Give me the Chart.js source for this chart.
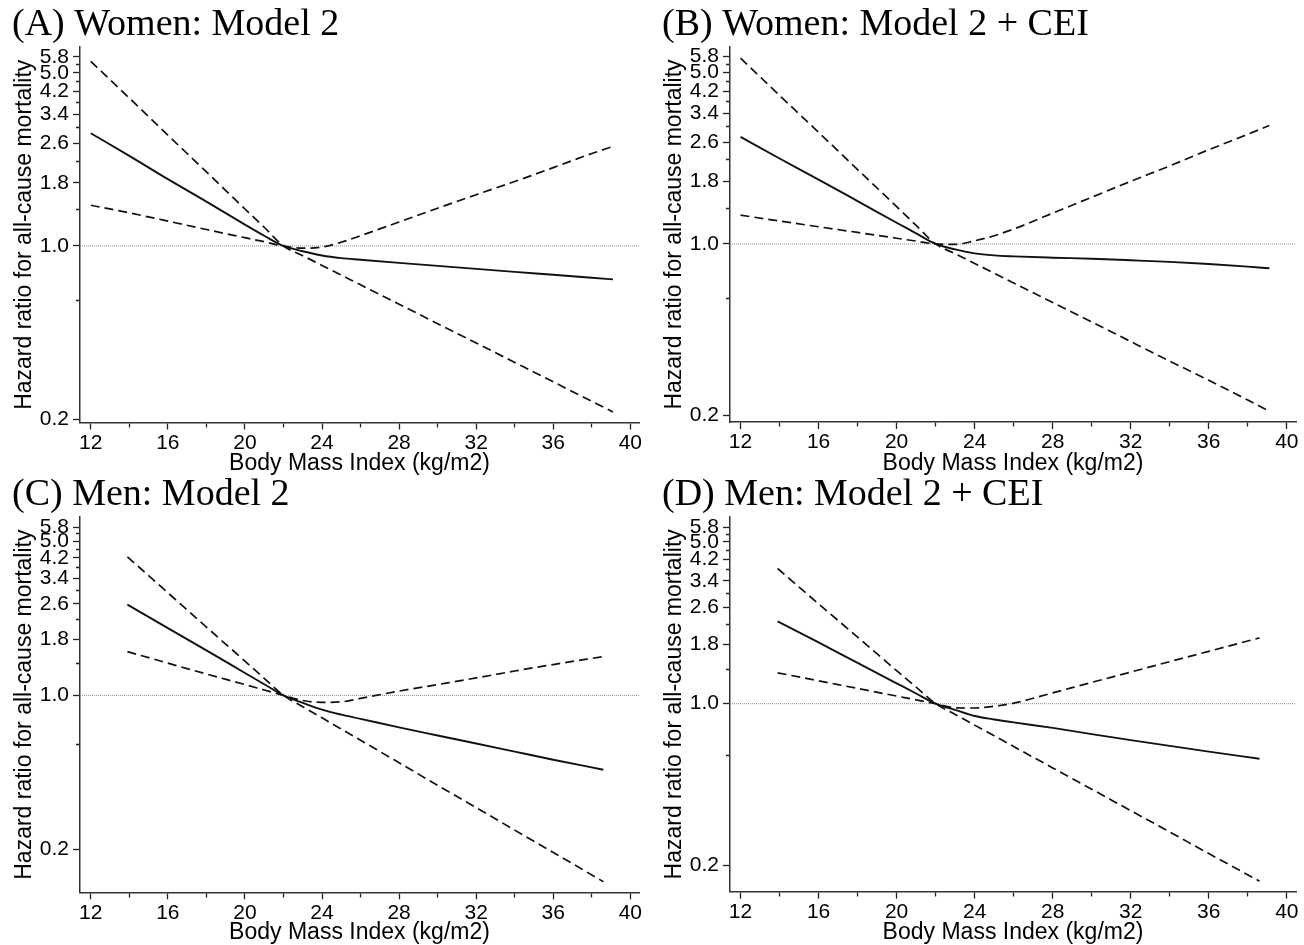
<!DOCTYPE html>
<html>
<head>
<meta charset="utf-8">
<script src="https://cdn.jsdelivr.net/npm/chart.js@4.4.1/dist/chart.umd.min.js"></script>
<style>
  body { margin: 0; background: #fff; }
  #wrap { position: relative; width: 1304px; height: 945px; overflow: hidden; background: #fff; }
  canvas { position: absolute; }
</style>
</head>
<body>
<div id="wrap">
  <canvas id="panelA" width="650" height="480" style="left:0;top:0"></canvas>
  <canvas id="panelB" width="654" height="480" style="left:650px;top:0"></canvas>
  <canvas id="panelC" width="650" height="475" style="left:0;top:470px"></canvas>
  <canvas id="panelD" width="654" height="475" style="left:650px;top:470px"></canvas>
</div>
<script>
// BMI grid the curves were read at
var bmiWomen = [12, 14, 16, 18, 20, 21, 22, 23, 24, 25, 26, 28, 30, 32, 34, 36, 38, 39.1];
var bmiMen = [13.9, 16, 18, 20, 21, 22, 23, 24, 25, 26, 28, 30, 32, 34, 36, 38.6];

// (A) Women: Model 2
var hrA = [2.85, 2.31, 1.86, 1.51, 1.22, 1.10, 1.0, 0.952, 0.915, 0.893, 0.88, 0.855, 0.831, 0.808, 0.786, 0.765, 0.744, 0.733];
var ciSteepA = [5.56, 3.95, 2.80, 1.99, 1.41, 1.19, 1.0, 0.914, 0.835, 0.763, 0.697, 0.582, 0.486, 0.406, 0.339, 0.283, 0.236, 0.214];
var ciBendA = [1.46, 1.36, 1.26, 1.165, 1.08, 1.04, 1.0, 0.98, 0.99, 1.035, 1.10, 1.25, 1.42, 1.61, 1.82, 2.07, 2.36, 2.52];

// (B) Women: Model 2 + CEI
var hrB = [2.73, 2.23, 1.83, 1.495, 1.22, 1.105, 1.0, 0.95, 0.915, 0.898, 0.89, 0.879, 0.870, 0.858, 0.845, 0.828, 0.808, 0.796];
var ciSteepB = [5.72, 4.03, 2.85, 2.01, 1.42, 1.19, 1.0, 0.912, 0.833, 0.760, 0.693, 0.577, 0.481, 0.40, 0.333, 0.278, 0.231, 0.208];
var ciBendB = [1.31, 1.24, 1.175, 1.114, 1.055, 1.027, 1.0, 0.995, 1.03, 1.08, 1.15, 1.335, 1.55, 1.80, 2.08, 2.42, 2.80, 3.04];

// (C) Men: Model 2
var hrC = [2.58, 2.02, 1.60, 1.264, 1.124, 1.0, 0.925, 0.862, 0.818, 0.783, 0.716, 0.658, 0.605, 0.556, 0.511, 0.46];
var ciSteepC = [4.25, 2.92, 2.04, 1.43, 1.195, 1.0, 0.889, 0.791, 0.703, 0.626, 0.495, 0.391, 0.31, 0.245, 0.194, 0.143];
var ciBendC = [1.58, 1.40, 1.25, 1.12, 1.058, 1.0, 0.948, 0.93, 0.935, 0.97, 1.046, 1.12, 1.20, 1.29, 1.38, 1.50];

// (D) Men: Model 2 + CEI
var hrD = [2.27, 1.84, 1.50, 1.225, 1.107, 1.0, 0.94, 0.885, 0.855, 0.83, 0.786, 0.739, 0.696, 0.657, 0.621, 0.578];
var ciSteepD = [3.84, 2.70, 1.94, 1.39, 1.18, 1.0, 0.899, 0.808, 0.727, 0.653, 0.528, 0.427, 0.345, 0.279, 0.225, 0.171];
var ciBendD = [1.36, 1.256, 1.164, 1.079, 1.039, 1.0, 0.96, 0.958, 0.975, 1.005, 1.114, 1.236, 1.37, 1.52, 1.684, 1.925];

var xMajor = [12, 16, 20, 24, 28, 32, 36, 40];
var xMinor = [14, 18, 22, 26, 30, 34, 38];
var yMajor = [0.2, 1.0, 1.8, 2.6, 3.4, 4.2, 5.0, 5.8];
var yMinor = [0.6, 1.4, 2.2, 3.0, 3.8, 4.6, 5.4];
var yLabels = ['0.2', '1.0', '1.8', '2.6', '3.4', '4.2', '5.0', '5.8'];
var refHR = 1.0;

Chart.defaults.font.family = '"Liberation Sans", Arial, sans-serif';
Chart.defaults.color = '#000';

function toPoints(xs, ys) {
    return xs.map(function (x, i) { return { x: x, y: ys[i] }; });
}

function tickList(major, minor) {
    return major.concat(minor).sort(function (a, b) { return a - b; })
        .map(function (v) { return { value: v }; });
}

function drawPanel(id, title, bmi, hr, ciSteep, ciBend, xMin, xMax, yMin, yMax, padRight, xAxisHeight, xTitlePad) {
    var ctx = document.getElementById(id).getContext('2d');
    new Chart(ctx, {
        type: 'line',
        data: {
            datasets: [
                { label: 'Hazard ratio', data: toPoints(bmi, hr), borderColor: '#111', borderWidth: 1.9 },
                { label: '95% CI', data: toPoints(bmi, ciSteep), borderColor: '#111', borderWidth: 1.7, borderDash: [9, 5] },
                { label: '95% CI', data: toPoints(bmi, ciBend), borderColor: '#111', borderWidth: 1.7, borderDash: [9, 5] },
                { label: 'HR = 1', data: [{ x: xMin, y: refHR }, { x: xMax, y: refHR }], borderColor: '#8a8a8a', borderWidth: 1, borderDash: [1, 1] }
            ]
        },
        options: {
            responsive: false,
            animation: false,
            layout: { padding: { left: 12, right: padRight, top: 0, bottom: 0 } },
            elements: {
                point: { radius: 0 },
                line: { cubicInterpolationMode: 'monotone', fill: false }
            },
            plugins: {
                legend: { display: false },
                tooltip: { enabled: false },
                title: {
                    display: true,
                    text: title,
                    align: 'start',
                    color: '#000',
                    font: { family: '"Liberation Serif", "Times New Roman", serif', size: 38, weight: 'normal', lineHeight: 1 },
                    padding: { top: 6, bottom: 3 }
                }
            },
            scales: {
                x: {
                    type: 'linear',
                    min: xMin,
                    max: xMax,
                    afterBuildTicks: function (s) { s.ticks = tickList(xMajor, xMinor); },
                    afterFit: function (s) { s.height = xAxisHeight; },
                    ticks: {
                        autoSkip: false,
                        maxRotation: 0,
                        padding: 1,
                        color: '#000',
                        font: { size: 21 },
                        callback: function (v) { return xMajor.indexOf(v) >= 0 ? String(v) : ''; }
                    },
                    grid: {
                        drawOnChartArea: false,
                        tickLength: 7,
                        tickColor: '#222',
                        tickWidth: 1.3,
                        tickBorderDash: function (c) {
                            return c.tick && xMinor.indexOf(c.tick.value) >= 0 ? [4, 20] : [];
                        }
                    },
                    border: { color: '#333', width: 1.5 },
                    title: {
                        display: true,
                        text: 'Body Mass Index (kg/m2)',
                        color: '#000',
                        font: { size: 23, lineHeight: 1 },
                        padding: { top: 0, bottom: xTitlePad }
                    }
                },
                y: {
                    type: 'logarithmic',
                    min: yMin,
                    max: yMax,
                    afterBuildTicks: function (s) { s.ticks = tickList(yMajor, yMinor); },
                    afterFit: function (s) { s.width = 68; },
                    ticks: {
                        autoSkip: false,
                        padding: 4,
                        color: '#000',
                        font: { size: 21 },
                        callback: function (v) {
                            var i = yMajor.indexOf(v);
                            return i >= 0 ? yLabels[i] : '';
                        }
                    },
                    grid: {
                        drawOnChartArea: false,
                        tickLength: 7,
                        tickColor: '#222',
                        tickWidth: 1.3,
                        tickBorderDash: function (c) {
                            return c.tick && yMinor.indexOf(c.tick.value) >= 0 ? [0, 3, 4, 20] : [];
                        }
                    },
                    border: { color: '#333', width: 1.5 },
                    title: {
                        display: true,
                        text: 'Hazard ratio for all-cause mortality',
                        color: '#000',
                        font: { size: 23, lineHeight: 1 },
                        padding: { top: 1, bottom: 0 }
                    }
                }
            }
        }
    });
}

drawPanel('panelA', '(A) Women: Model 2', bmiWomen, hrA, ciSteepA, ciBendA, 11.44, 40.45, 0.194, 6.35, 11, 57.5, 5);
drawPanel('panelB', '(B) Women: Model 2 + CEI', bmiWomen, hrB, ciSteepB, ciBendB, 11.46, 40.47, 0.188, 6.35, 8, 58, 5);
drawPanel('panelC', '(C) Men: Model 2', bmiMen, hrC, ciSteepC, ciBendC, 11.44, 40.45, 0.128, 6.44, 11, 52.7, 1);
drawPanel('panelD', '(D) Men: Model 2 + CEI', bmiMen, hrD, ciSteepD, ciBendD, 11.46, 40.47, 0.154, 6.41, 8, 53.3, 1);
</script>
</body>
</html>
